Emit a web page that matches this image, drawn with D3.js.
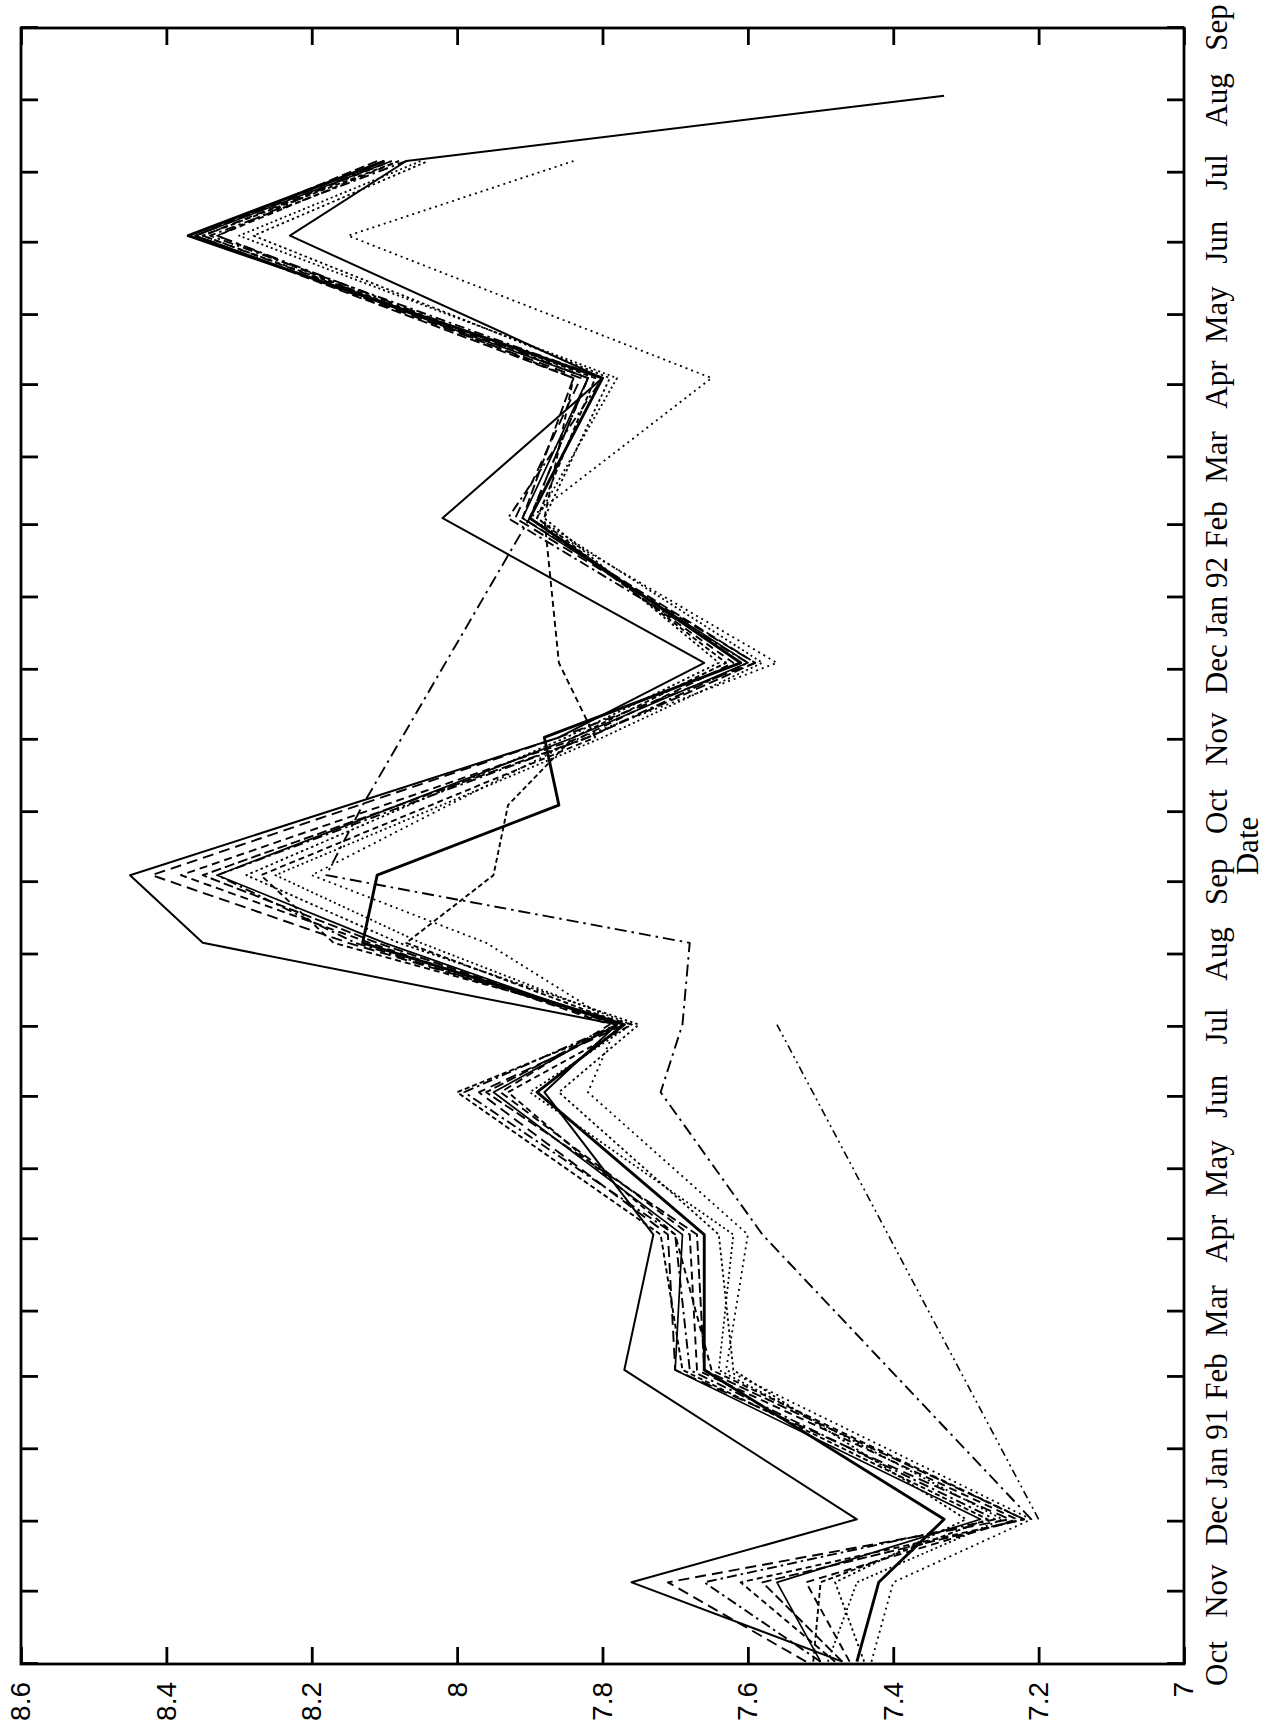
<!DOCTYPE html>
<html>
<head>
<meta charset="utf-8">
<script src="https://cdn.jsdelivr.net/npm/d3@7"></script>
<style>
  body { margin: 0; background: #fff; }
</style>
</head>
<body>
<div id="chart"></div>
<script>
/////////////////////////////
// data
const sampleDates = [
  "1990-10-02", "1990-11-05", "1990-12-02", "1991-02-04", "1991-04-03",
  "1991-06-03", "1991-07-02", "1991-08-06", "1991-09-04", "1991-10-04",
  "1991-11-02", "1991-12-04", "1992-02-04", "1992-04-04", "1992-06-04",
  "1992-07-06", "1992-08-03"
];

const seriesA = [7.47, 7.76, 7.45, 7.77, 7.73, 7.88, 7.78, 8.35, 8.45, null, 7.86, 7.66, 8.02, 7.80, 8.23, 8.07, 7.33];
const seriesB = [7.45, 7.42, 7.33, 7.66, 7.66, 7.89, 7.77, 8.13, 8.11, 7.86, 7.88, 7.61, 7.90, 7.80, 8.37, 8.10, null];
const seriesC = [7.50, 7.56, 7.28, 7.70, 7.69, 7.95, 7.78, 8.10, 8.33, null, 7.84, 7.60, 7.91, 7.82, 8.36, 8.09, null];
const seriesD = [7.52, 7.71, 7.24, 7.70, 7.71, 7.97, 7.77, 8.15, 8.42, null, 7.86, 7.59, 7.92, 7.83, 8.36, 8.10, null];
const seriesE = [7.48, 7.61, 7.22, 7.65, 7.70, 7.93, 7.76, 8.17, 8.27, null, 7.81, 7.86, 7.88, 7.84, 8.33, 8.08, null];
const seriesF = [7.43, 7.40, 7.21, 7.63, 7.60, 7.82, 7.78, 7.96, 8.20, null, 7.83, 7.56, 7.90, 7.65, 8.15, 7.84, null];
const seriesG = [7.50, 7.66, 7.26, 7.68, 7.70, 7.99, 7.78, 8.14, 8.33, null, 7.82, 7.60, 7.93, 7.80, 8.34, 8.07, null];
const seriesH = [7.46, 7.52, 7.23, 7.67, 7.68, 7.94, 7.79, 8.12, 8.38, null, 7.83, 7.62, 7.90, 7.82, 8.35, 8.09, null];
const seriesI = [7.49, 7.45, 7.25, 7.64, 7.62, 7.90, 7.76, 8.05, 8.25, null, 7.80, 7.58, 7.89, 7.78, 8.30, 8.05, null];
const seriesJ = [null, null, 7.21, null, 7.58, 7.72, 7.69, 7.68, 8.18, 8.13, null, null, 7.90, 7.82, 8.33, 8.10, null];
const seriesK = [null, null, 7.20, null, null, null, 7.56, null, null, null, null, null, null, null, null, null, null];
const seriesL = [7.51, 7.50, 7.27, 7.69, 7.72, 8.00, 7.77, 8.07, 7.95, 7.93, 7.84, 7.63, 7.89, 7.81, 8.35, 8.08, null];
const seriesM = [7.44, 7.48, 7.30, 7.62, 7.64, 7.86, 7.75, 8.08, 8.29, null, 7.85, 7.64, 7.88, 7.79, 8.28, 8.04, null];
const seriesN = [7.47, 7.58, 7.22, 7.66, 7.67, 7.96, 7.78, 8.11, 8.35, null, 7.82, 7.59, 7.91, 7.84, 8.36, 8.11, null];

const monthLabels = [
  "Oct", "Nov", "Dec", "Jan 91", "Feb", "Mar", "Apr", "May", "Jun", "Jul", "Aug", "Sep",
  "Oct", "Nov", "Dec", "Jan 92", "Feb", "Mar", "Apr", "May", "Jun", "Jul", "Aug", "Sep"
];
const valueTicks = [7, 7.2, 7.4, 7.6, 7.8, 8, 8.2, 8.4, 8.6];
const valueLabels = ["7", "7.2", "7.4", "7.6", "7.8", "8", "8.2", "8.4", "8.6"];

/////////////////////////////
// layout: the plot is drawn landscape, then turned a quarter turn
let frame = { left: 21, top: 28, right: 1184, bottom: 1664 };
let plotW = frame.bottom - frame.top;   // date axis length
let plotH = frame.right - frame.left;   // value axis length

let parse = d3.timeParse("%Y-%m-%d");
let dates = sampleDates.map(parse);
let monthTicks = d3.timeMonth.range(new Date(1990, 9, 1), new Date(1992, 9, 2));

let x = d3.scaleTime()
  .domain([new Date(1990, 9, 1), new Date(1992, 8, 1)])
  .range([0, plotW]);
let y = d3.scaleLinear()
  .domain([7, 8.6])
  .range([plotH, 0]);

let svg = d3.select("#chart").append("svg")
  .attr("width", 1270)
  .attr("height", 1733)
  .style("background-color", "#fff");

let plot = svg.append("g")
  .attr("transform", `translate(${frame.left}, ${frame.bottom}) rotate(-90)`);

/////////////////////////////
// lines
let styles = [
  { s: seriesA, dash: null, w: 2.0 },
  { s: seriesB, dash: null, w: 2.9 },
  { s: seriesC, dash: null, w: 1.7 },
  { s: seriesD, dash: "11,6", w: 1.9 },
  { s: seriesE, dash: "6,4", w: 1.9 },
  { s: seriesF, dash: "2,4", w: 1.8 },
  { s: seriesG, dash: "10,4,2.5,4", w: 1.9 },
  { s: seriesH, dash: "8,5", w: 1.9 },
  { s: seriesI, dash: "2,3", w: 1.8 },
  { s: seriesJ, dash: "12,5,2.5,5", w: 1.9 },
  { s: seriesK, dash: "8,4,2,4,2,4", w: 1.6 },
  { s: seriesL, dash: "5,3", w: 1.9 },
  { s: seriesM, dash: "2.5,3", w: 1.8 },
  { s: seriesN, dash: "10,4", w: 1.9 }
];

let line = d3.line()
  .x(d => x(d[0]))
  .y(d => y(d[1]));

styles.forEach(st => {
  let pts = dates.map((d, i) => [d, st.s[i]]).filter(p => p[1] !== null);
  plot.append("path")
    .datum(pts)
    .attr("fill", "none")
    .attr("stroke", "#000")
    .attr("stroke-width", st.w)
    .attr("stroke-dasharray", st.dash)
    .attr("stroke-linejoin", "round")
    .attr("d", line);
});

/////////////////////////////
// axes
let dateAxis = d3.axisBottom(x)
  .tickValues(monthTicks)
  .tickSizeInner(-17)
  .tickSizeOuter(0)
  .tickPadding(21)
  .tickFormat((d, i) => monthLabels[i]);

let dateAxisTop = d3.axisTop(x)
  .tickValues(monthTicks)
  .tickSizeInner(-17)
  .tickSizeOuter(0)
  .tickFormat("");

let valueAxis = d3.axisLeft(y)
  .tickValues(valueTicks)
  .tickSizeInner(-17)
  .tickSizeOuter(0)
  .tickPadding(18)
  .tickFormat((d, i) => valueLabels[i]);

let valueAxisRight = d3.axisRight(y)
  .tickValues(valueTicks)
  .tickSizeInner(-17)
  .tickSizeOuter(0)
  .tickFormat("");

let gx = plot.append("g")
  .attr("transform", `translate(0, ${plotH})`)
  .call(dateAxis);
gx.selectAll("text")
  .style("font-family", "'Liberation Serif', 'Times New Roman', serif")
  .style("font-size", "31px")
  .attr("fill", "#000");

plot.append("g").call(dateAxisTop);

let gy = plot.append("g").call(valueAxis);
gy.selectAll("text")
  .style("font-family", "'Liberation Sans', Arial, sans-serif")
  .style("font-size", "28px")
  .attr("fill", "#000");

plot.append("g")
  .attr("transform", `translate(${plotW}, 0)`)
  .call(valueAxisRight);

plot.selectAll(".domain").remove();
plot.selectAll(".tick line")
  .attr("stroke", "#000")
  .attr("stroke-width", 2.8);

// frame
plot.append("rect")
  .attr("x", 0)
  .attr("y", 0)
  .attr("width", plotW)
  .attr("height", plotH)
  .attr("fill", "none")
  .attr("stroke", "#000")
  .attr("stroke-width", 2.8);

// axis title
plot.append("text")
  .attr("x", plotW / 2)
  .attr("y", plotH + 74)
  .attr("text-anchor", "middle")
  .style("font-family", "'Liberation Serif', 'Times New Roman', serif")
  .style("font-size", "31px")
  .text("Date");
</script>
</body>
</html>
